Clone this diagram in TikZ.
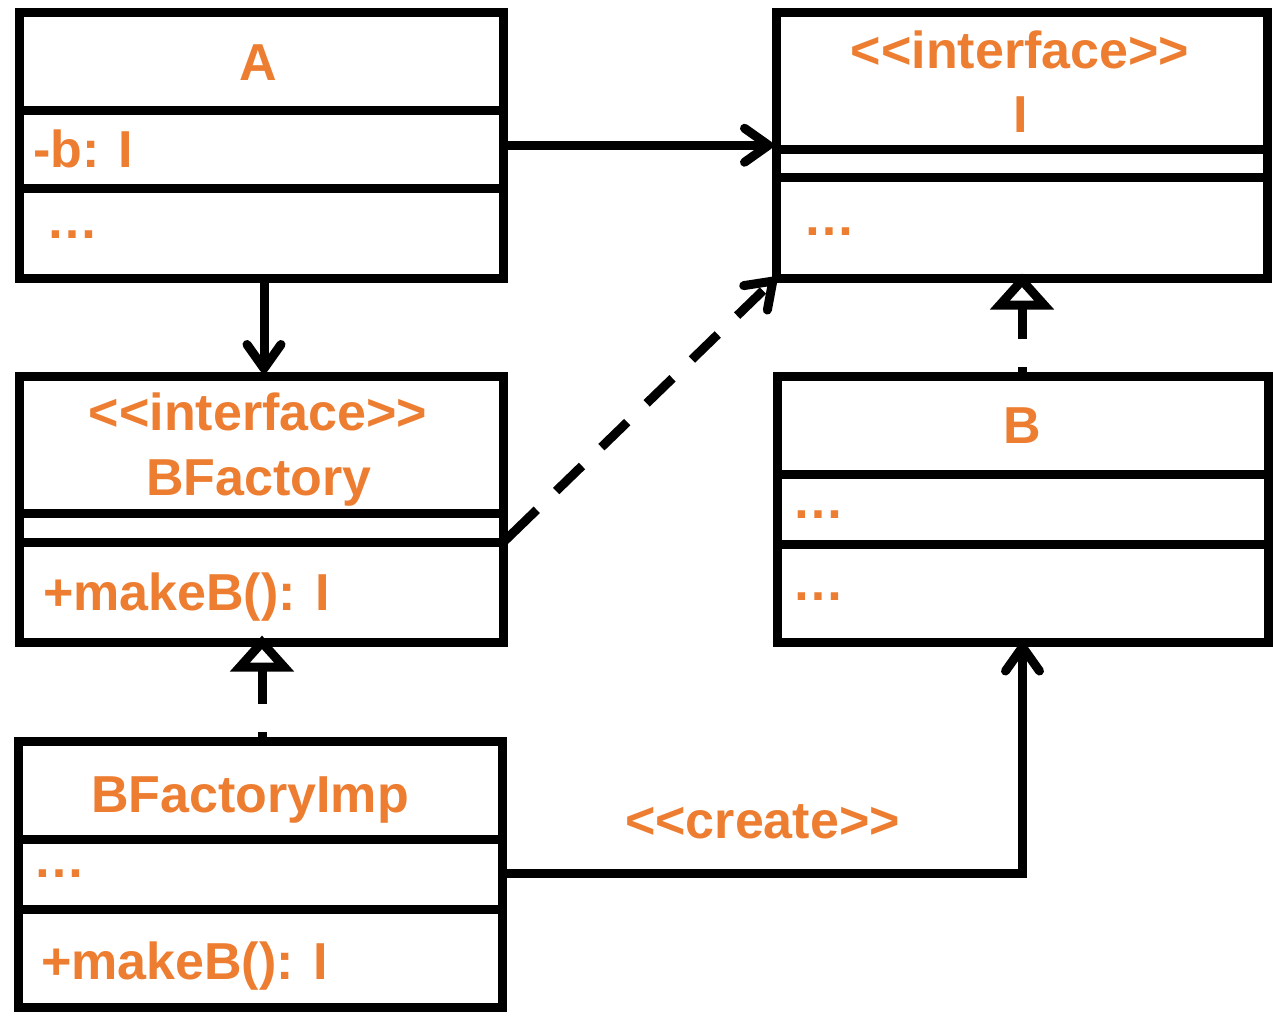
\documentclass[tikz,border=0pt]{standalone}
\usepackage{fontspec}
\setmainfont{Liberation Sans}[Ligatures=TeXOff]
\usetikzlibrary{arrows.meta}
\definecolor{umlorange}{RGB}{237,125,49}
\tikzset{
  umlbox/.style={draw=black, line width=9pt, fill=white, inner sep=0pt, outer sep=0pt, rectangle},
  sepline/.style={line width=9pt, line cap=butt},
  txt/.style={text=umlorange, font=\bfseries\fontsize{52}{60}\selectfont, inner sep=0pt, outer sep=0pt},
  assoc/.style={line width=9pt, -{Straight Barb[length=24pt,width=34pt,round]}},
  realize/.style={line width=9pt, dash pattern=on 36pt off 28pt, dash phase=26pt, -{Triangle[fill=white,length=36pt,width=62pt]}},
  depend/.style={line width=9pt, dash pattern=on 47pt off 27pt on 36pt off 27pt on 36pt off 27pt on 36pt off 27pt on 36pt off 27pt on 36pt off 27pt, -{Straight Barb[length=24pt,width=34pt,round]}}
}
\begin{document}
\begin{tikzpicture}[x=1pt,y=-1pt]
\useasboundingbox[fill=white] (0,0) rectangle (1273,1025);

% boxes
\node[umlbox, minimum width=483.5pt, minimum height=265.5pt] (A) at (261.25,145.25) {};
\node[umlbox, minimum width=491pt, minimum height=265.5pt] (I) at (1021.5,145.25) {};
\node[umlbox, minimum width=483.5pt, minimum height=266pt] (BF) at (261.25,509.5) {};
\node[umlbox, minimum width=491pt, minimum height=266pt] (B) at (1022.5,509.5) {};
\node[umlbox, minimum width=484.5pt, minimum height=266pt] (BFI) at (260.25,874.5) {};

% separators
\draw[sepline] (A.west |- 0,110.5) -- (A.east |- 0,110.5);
\draw[sepline] (A.west |- 0,188.5) -- (A.east |- 0,188.5);
\draw[sepline] (I.west |- 0,149.5) -- (I.east |- 0,149.5);
\draw[sepline] (I.west |- 0,177.5) -- (I.east |- 0,177.5);
\draw[sepline] (BF.west |- 0,513.5) -- (BF.east |- 0,513.5);
\draw[sepline] (BF.west |- 0,542.5) -- (BF.east |- 0,542.5);
\draw[sepline] (B.west |- 0,474.5) -- (B.east |- 0,474.5);
\draw[sepline] (B.west |- 0,544.5) -- (B.east |- 0,544.5);
\draw[sepline] (BFI.west |- 0,839.5) -- (BFI.east |- 0,839.5);
\draw[sepline] (BFI.west |- 0,909.5) -- (BFI.east |- 0,909.5);

% texts
\node[txt, anchor=base] (tA) at (258,81) {A};
\node[txt, anchor=base west] (tAb) at (33,167) {-b: I};
\node[txt, anchor=base west] (tAd) at (46,238) {…};

\node[txt, anchor=base] (tIs) at (1020,68) {<<interface>>};
\node[txt, anchor=base] (tI) at (1021,132) {I};
\node[txt, anchor=base west] (tId) at (803,235) {…};

\node[txt, anchor=base] (tBFs) at (258,430) {<<interface>>};
\node[txt, anchor=base] (tBF) at (259,495) {BFactory};
\node[txt, anchor=base west] (tBFm) at (43,610) {+makeB(): I};

\node[txt, anchor=base] (tB) at (1022,443) {B};
\node[txt, anchor=base west] (tBd1) at (792,518) {…};
\node[txt, anchor=base west] (tBd2) at (792,600) {…};

\node[txt, anchor=base] (tBFI) at (250,812) {BFactoryImp};
\node[txt, anchor=base west] (tBFId) at (33,877) {…};
\node[txt, anchor=base west] (tBFIm) at (41,979) {+makeB(): I};

\node[txt, anchor=base] (tcreate) at (762.5,838) {<<create>>};

% connectors
\draw[assoc] (A.east) -- ([xshift=-3pt]A.east -| I.west);
\draw[assoc] ([xshift=2.75pt]A.south) -- ([xshift=2.75pt,yshift=3.5pt]BF.north);
\draw[depend] (BF.east |- 0,542.5) -- (I.south west);
\draw[realize] ([xshift=1.75pt]BFI.north) -- ([xshift=0.75pt,yshift=7pt]BF.south);
\draw[realize] ([xshift=-0.5pt]B.north) -- ([xshift=0.5pt,yshift=4.5pt]I.south);
\draw[assoc] (BFI.east |- 0,873.5) -| (B.south);
\end{tikzpicture}
\end{document}
